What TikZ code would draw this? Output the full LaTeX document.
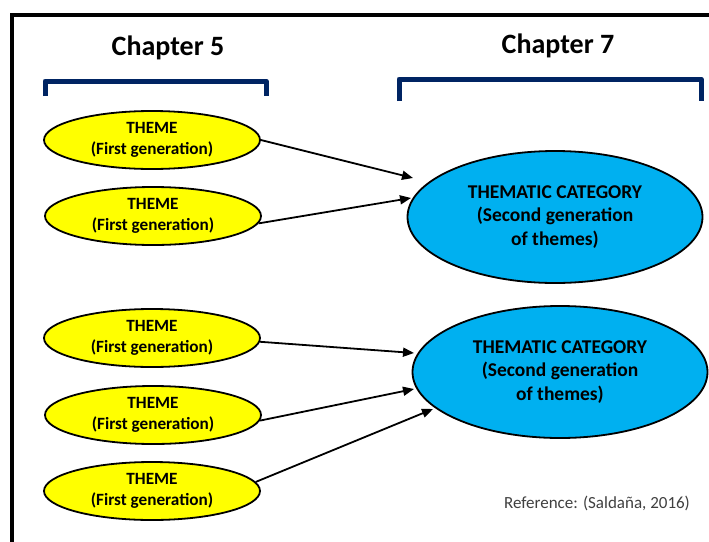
\documentclass[tikz,border=0pt]{standalone}
\usepackage{fontspec}
\setmainfont{Carlito}
\usetikzlibrary{shapes.geometric,arrows.meta}
\definecolor{navy}{RGB}{0,36,99}
\definecolor{themeyellow}{RGB}{255,255,0}
\definecolor{catblue}{RGB}{0,176,240}
\definecolor{reftext}{RGB}{64,64,64}
\tikzset{
  theme/.style={ellipse, draw=black, line width=1.8pt, fill=themeyellow,
    minimum width=216pt, minimum height=58pt, inner sep=0pt, align=center,
    font=\bfseries\fontsize{17.2}{21}\selectfont},
  category/.style={ellipse, draw=black, line width=1.8pt, fill=catblue,
    minimum width=295pt, minimum height=132pt, inner sep=0pt, align=center,
    font=\bfseries\fontsize{19.5}{23.5}\selectfont},
  chapter/.style={font=\bfseries\fontsize{28}{32}\selectfont, inner sep=0pt},
  bracket/.style={draw=navy, line width=5pt, line join=round},
  link/.style={draw=black, line width=1.8pt, -{Triangle[length=11pt,width=9pt]}},
  frameline/.style={draw=black, line width=4pt}
}
\begin{document}
\begin{tikzpicture}[x=1pt,y=-1pt]
\useasboundingbox (0,0) rectangle (709,541);
\fill[white] (0,0) rectangle (709,541);
% frame
\draw[frameline] (12,545) -- (12,15) -- (712,15);
% chapter titles
\node[chapter] (ch5) at (168,48) {Chapter 5};
\node[chapter] (ch7) at (558,46) {Chapter 7};
% brackets
\draw[bracket] (45,96) -- (45,81) -- (266,81) -- (266,96);
\draw[bracket] (399,101) -- (399,79) -- (701,79) -- (701,101);
% themes
\node[theme] (y1) at (152,140) {THEME\\(First generation)};
\node[theme] (y2) at (153,216) {THEME\\(First generation)};
\node[theme] (y3) at (152,338) {THEME\\(First generation)};
\node[theme] (y4) at (153,415) {THEME\\(First generation)};
\node[theme] (y5) at (152,491) {THEME\\(First generation)};
% categories
\node[category] (c1) at (555,217) {THEMATIC CATEGORY\\(Second generation\\of themes)};
\node[category] (c2) at (560,372) {THEMATIC CATEGORY\\(Second generation\\of themes)};
% arrow tips
\coordinate (t1) at (413,178);
\coordinate (t2) at (411,198);
\coordinate (t3) at (414,353);
\coordinate (t4) at (414,389);
\coordinate (t5) at (433,409);
\draw[link] (y1.east) -- (t1);
\draw[link] (y2.-4) -- (t2);
\draw[link] (y3.-2) -- (t3);
\draw[link] (y4.-3) -- (t4);
\draw[link] (y5.5) -- (t5);
% reference
\node[font=\fontsize{17}{20}\selectfont, text=reftext, inner sep=0pt] (ref) at (597,503) {Reference: (Saldaña, 2016)};
\end{tikzpicture}
\end{document}
